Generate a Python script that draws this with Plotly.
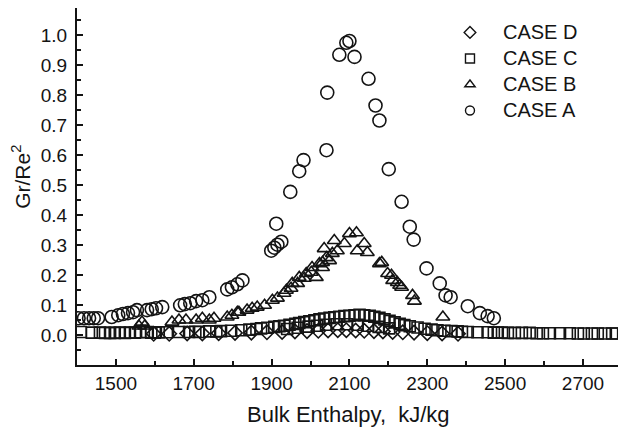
import plotly.graph_objects as go

# Gr/Re^2 against bulk enthalpy for four heating cases
case_a_h = [1404, 1418, 1431, 1443, 1454, 1489, 1506, 1518, 1531, 1544, 1554, 1580, 1592, 1603,
            1619, 1665, 1677, 1691, 1706, 1722, 1740, 1786, 1798, 1812, 1825, 1899, 1907, 1915,
            1925, 1912, 1948, 1971, 1982, 2041, 2043, 2074, 2092, 2100, 2113, 2149, 2167, 2177,
            2201, 2234, 2255, 2265, 2298, 2332, 2347, 2360, 2404, 2435, 2455, 2471]
case_a_gr = [0.056, 0.056, 0.056, 0.056, 0.056, 0.060, 0.066, 0.070, 0.073, 0.076, 0.083, 0.083,
             0.086, 0.089, 0.093, 0.099, 0.103, 0.106, 0.113, 0.116, 0.126, 0.152, 0.159, 0.169,
             0.182, 0.281, 0.291, 0.301, 0.311, 0.371, 0.477, 0.546, 0.583, 0.616, 0.808, 0.934,
             0.974, 0.980, 0.927, 0.854, 0.765, 0.715, 0.553, 0.444, 0.361, 0.318, 0.222, 0.172,
             0.132, 0.126, 0.096, 0.073, 0.063, 0.056]

case_b_h = [1559, 1567, 1574, 1644, 1662, 1680, 1706, 1722, 1740, 1752, 1786, 1798, 1812, 1816,
            1837, 1850, 1863, 1882, 1902, 1915, 1932, 1938, 1950, 1953, 1967, 1971, 1984, 1989,
            2002, 2004, 2015, 2023, 2031, 2031, 2035, 2041, 2049, 2056, 2061, 2069, 2087, 2100,
            2118, 2120, 2138, 2146, 2177, 2183, 2198, 2208, 2211, 2223, 2229, 2234, 2262, 2267,
            2340]
case_b_gr = [0.030, 0.043, 0.030, 0.043, 0.050, 0.050, 0.050, 0.056, 0.050, 0.056, 0.060, 0.066,
             0.076, 0.076, 0.083, 0.089, 0.093, 0.099, 0.116, 0.123, 0.139, 0.149, 0.156, 0.172,
             0.172, 0.192, 0.189, 0.205, 0.209, 0.225, 0.192, 0.238, 0.225, 0.242, 0.288, 0.258,
             0.248, 0.272, 0.315, 0.281, 0.305, 0.338, 0.341, 0.281, 0.305, 0.275, 0.238, 0.242,
             0.205, 0.199, 0.182, 0.175, 0.166, 0.159, 0.132, 0.113, 0.060]

case_c_h = [1410, 1438, 1459, 1472, 1485, 1497, 1510, 1523, 1536, 1549, 1562, 1580, 1591, 1600,
            1610, 1631, 1662, 1688, 1704, 1713, 1740, 1758, 1770, 1796, 1822, 1843, 1861, 1873,
            1889, 1907, 1920, 1932, 1946, 1961, 1971, 1984, 1997, 2010, 2023, 2035, 2049, 2061,
            2074, 2087, 2100, 2113, 2126, 2138, 2152, 2164, 2177, 2190, 2203, 2216, 2229, 2241,
            2255, 2275, 2293, 2311, 2326, 2344, 2362, 2378, 2389, 2404, 2429, 2455, 2471, 2481,
            2492, 2507, 2525, 2543, 2563, 2581, 2597, 2615, 2641, 2666, 2687, 2702, 2723, 2738,
            2756, 2775, 2787,
            1940, 1967, 1995, 2017, 2040, 2067, 2094, 2121, 2148, 2175, 2202]
case_c_gr = [0.010, 0.008, 0.008, 0.007, 0.007, 0.007, 0.008, 0.007, 0.008, 0.008, 0.009, 0.010,
             0.008, 0.008, 0.009, 0.009, 0.010, 0.010, 0.011, 0.010, 0.012, 0.012, 0.013, 0.014,
             0.016, 0.018, 0.020, 0.022, 0.024, 0.027, 0.029, 0.031, 0.034, 0.037, 0.040, 0.043,
             0.046, 0.049, 0.052, 0.055, 0.057, 0.059, 0.061, 0.063, 0.064, 0.066, 0.067, 0.066,
             0.064, 0.061, 0.057, 0.052, 0.047, 0.042, 0.037, 0.033, 0.029, 0.025, 0.021, 0.018,
             0.016, 0.014, 0.013, 0.012, 0.011, 0.010, 0.009, 0.009, 0.008, 0.008, 0.008, 0.007,
             0.007, 0.007, 0.007, 0.006, 0.006, 0.006, 0.006, 0.006, 0.005, 0.005, 0.005, 0.005,
             0.005, 0.005, 0.005,
             0.020, 0.024, 0.028, 0.031, 0.034, 0.036, 0.036, 0.034, 0.031, 0.027, 0.022]

case_d_h = [1597, 1637, 1683, 1722, 1764, 1806, 1848, 1888, 1927, 1960, 1991, 2020, 2045, 2070,
            2092, 2116, 2138, 2163, 2186, 2211, 2237, 2266, 2300, 2338, 2379]
case_d_gr = [0.004, 0.004, 0.005, 0.005, 0.006, 0.007, 0.008, 0.009, 0.010, 0.012, 0.013, 0.014,
             0.015, 0.016, 0.016, 0.015, 0.014, 0.013, 0.012, 0.010, 0.009, 0.008, 0.006, 0.005,
             0.004]

y_ticks = [0.0, 0.1, 0.2, 0.3, 0.4, 0.5, 0.6, 0.7, 0.8, 0.9, 1.0]
y_minor = [-0.05, 0.05, 0.15, 0.25, 0.35, 0.45, 0.55, 0.65, 0.75, 0.85, 0.95, 1.05]
x_ticks = [1500, 1700, 1900, 2100, 2300, 2500, 2700]
x_minor = [1600, 1800, 2000, 2200, 2400, 2600]

INK = "#141414"
FONT = "Liberation Sans, Arial, sans-serif"

series = [
    ("CASE D", case_d_h, case_d_gr, "diamond-open", 11),
    ("CASE C", case_c_h, case_c_gr, "square-open", 11),
    ("CASE B", case_b_h, case_b_gr, "triangle-up-open", 12),
    ("CASE A", case_a_h, case_a_gr, "circle-open", 13),
]

fig = go.Figure()
for name, xs, ys, sym, size in series:
    fig.add_trace(go.Scatter(
        x=xs, y=ys, mode="markers", showlegend=False,
        marker=dict(symbol=sym, size=size, color=INK, line=dict(width=1.6, color=INK)),
    ))
# compact legend keys; the label text is set a little larger than the row pitch
for name, xs, ys, sym, size in series:
    fig.add_trace(go.Scatter(
        x=[None], y=[None], mode="markers",
        name=f'<span style="font-size:20px">{name}</span>',
        marker=dict(symbol=sym, size=9, color=INK, line=dict(width=1.4, color=INK)),
    ))

fig.update_layout(
    width=618, height=429,
    margin=dict(l=77, r=0, t=8, b=64),
    paper_bgcolor="white", plot_bgcolor="white",
    font=dict(family=FONT, size=19, color=INK),
    legend=dict(
        x=0.6654, y=0.982, xanchor="left", yanchor="top",
        bgcolor="rgba(0,0,0,0)", font=dict(size=17.7, color=INK),
        itemwidth=56, tracegroupgap=0,
    ),
    xaxis=dict(
        range=[1400, 2790], showgrid=False, zeroline=False,
        showline=True, linecolor=INK, linewidth=2,
        ticks="inside", ticklen=6, tickwidth=1.5, tickcolor=INK,
        tickvals=x_ticks, ticktext=[str(v) for v in x_ticks],
        minor=dict(tickvals=x_minor, ticks="inside", ticklen=4, tickcolor=INK, tickwidth=1.5),
        tickfont=dict(size=19),
    ),
    yaxis=dict(
        range=[-0.1, 1.09], showgrid=False, zeroline=False,
        showline=True, linecolor=INK, linewidth=2,
        ticks="inside", ticklen=6, tickwidth=1.5, tickcolor=INK,
        tickvals=y_ticks, ticktext=[f"{v:.1f}" for v in y_ticks],
        minor=dict(tickvals=y_minor, ticks="inside", ticklen=4, tickcolor=INK, tickwidth=1.5),
        tickfont=dict(size=19), ticklabelstandoff=4,
    ),
    annotations=[
        dict(
            text="Bulk Enthalpy,\u00a0\u00a0kJ/kg", xref="paper", yref="paper",
            x=0.501, y=-0.14, xanchor="center", yanchor="middle",
            showarrow=False, font=dict(size=22, color=INK),
        ),
        dict(
            text="Gr/Re<sup>2</sup>", xref="paper", yref="paper", textangle=-90,
            x=-0.1035, y=0.527, xanchor="center", yanchor="middle",
            showarrow=False, font=dict(size=21, color=INK),
        ),
    ],
)

fig.write_html("out.html")
